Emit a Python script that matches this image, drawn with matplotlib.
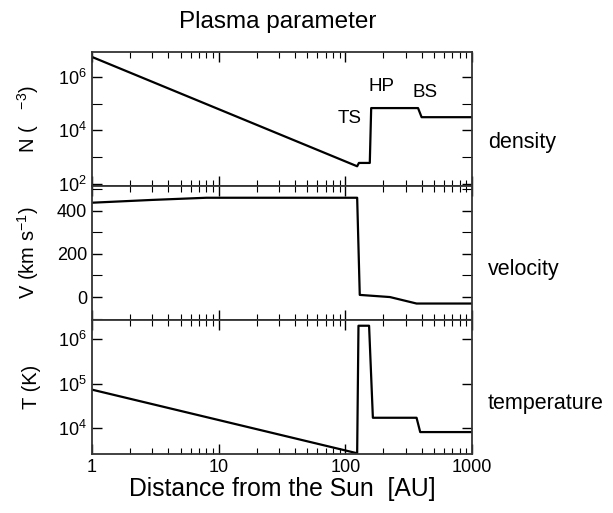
import matplotlib
matplotlib.use("Agg")
import matplotlib.pyplot as plt
from matplotlib.ticker import FixedLocator, NullFormatter, FixedFormatter

plt.rcParams['font.family'] = ['Liberation Sans', 'DejaVu Sans']
plt.rcParams['mathtext.fontset'] = 'custom'
plt.rcParams['mathtext.rm'] = 'Liberation Sans'

# distance from the Sun [AU] and plasma parameters
dens_r = [1, 124, 128, 156, 160, 375, 400, 1000]
dens_n = [5.6e6, 4.5e2, 6.0e2, 6.0e2, 6.8e4, 6.8e4, 3.1e4, 3.1e4]

vel_r = [1, 3, 8, 124, 130, 225, 365, 1000]
vel_v = [437, 450, 460, 460, 10, 0, -30, -30]

temp_r = [1, 124, 127, 154, 165, 365, 390, 1000]
temp_t = [7.3e4, 2.7e3, 2.0e6, 2.0e6, 1.7e4, 1.7e4, 8.1e3, 8.1e3]

shock_labels = ["TS", "HP", "BS"]
shock_pos = [(109, 2.8e4), (194, 4.2e5), (425, 2.7e5)]

fig = plt.figure(figsize=(6.13, 5.13), dpi=100)
gs = fig.add_gridspec(3, 1, left=0.150, right=0.770, top=0.899, bottom=0.115, hspace=0)
axes = [fig.add_subplot(gs[i]) for i in range(3)]

lw = 1.6
axes[0].plot(dens_r, dens_n, color='black', lw=lw)
axes[1].plot(vel_r, vel_v, color='black', lw=lw)
axes[2].plot(temp_r, temp_t, color='black', lw=lw)

for ax in axes:
    ax.set_xscale('log')
    ax.set_xlim(1, 1000)
    ax.xaxis.set_major_locator(FixedLocator([1, 10, 100, 1000]))
    ax.xaxis.set_minor_locator(FixedLocator([m * 10 ** e for e in range(3) for m in range(2, 10)]))
    ax.tick_params(which='both', direction='in', top=True, right=True, labelsize=13, colors='black')
    ax.tick_params(which='major', length=7, width=1)
    ax.tick_params(which='minor', length=4, width=0.8)
    for s in ax.spines.values():
        s.set_linewidth(1.3)
        s.set_color('#333333')
for ax in axes[:2]:
    ax.xaxis.set_major_formatter(NullFormatter())
axes[2].xaxis.set_major_formatter(FixedFormatter(['1', '10', '100', '1000']))
axes[2].xaxis.set_minor_formatter(NullFormatter())

# density
ax = axes[0]
ax.set_yscale('log')
ax.set_ylim(83, 8.7e6)
ax.yaxis.set_major_locator(FixedLocator([1e2, 1e4, 1e6]))
ax.yaxis.set_major_formatter(FixedFormatter([r'$10^2$', r'$10^4$', r'$10^6$']))
ax.yaxis.set_minor_locator(FixedLocator([1e3, 1e5]))
ax.yaxis.set_minor_formatter(NullFormatter())
ax.tick_params(axis='y', which='minor', length=7)
ax.set_ylabel(r'N (   $^{-3}$)', fontsize=14.5)
for lab, (x, y) in zip(shock_labels, shock_pos):
    ax.text(x, y, lab, fontsize=13.5, ha='center', va='center')

# velocity
ax = axes[1]
ax.set_ylim(-106, 515)
ax.yaxis.set_major_locator(FixedLocator([0, 200, 400]))
ax.yaxis.set_minor_locator(FixedLocator([-100, 100, 300, 500]))
ax.tick_params(axis='y', which='minor', length=7)
ax.set_ylabel(r'V (km s$^{-1}$)', fontsize=14.5)

# temperature
ax = axes[2]
ax.set_yscale('log')
ax.set_ylim(2.6e3, 2.7e6)
ax.yaxis.set_major_locator(FixedLocator([1e4, 1e5, 1e6]))
ax.yaxis.set_major_formatter(FixedFormatter([r'$10^4$', r'$10^5$', r'$10^6$']))
ax.yaxis.set_minor_locator(FixedLocator([]))
ax.set_ylabel('T (K)', fontsize=14.5)
ax.set_xlabel('Distance from the Sun  [AU]', fontsize=17.8, labelpad=1)

for ax in axes:
    ax.yaxis.set_label_coords(-0.135, 0.5)

fig.text(0.4535, 0.957, 'Plasma parameter', fontsize=17.5, ha='center', va='center')
fig.text(0.796, 0.723, 'density', fontsize=15.5, ha='left', va='center')
fig.text(0.796, 0.474, 'velocity', fontsize=15.5, ha='left', va='center')
fig.text(0.796, 0.214, 'temperature', fontsize=15.5, ha='left', va='center')

fig.savefig('out.png', dpi=100)
